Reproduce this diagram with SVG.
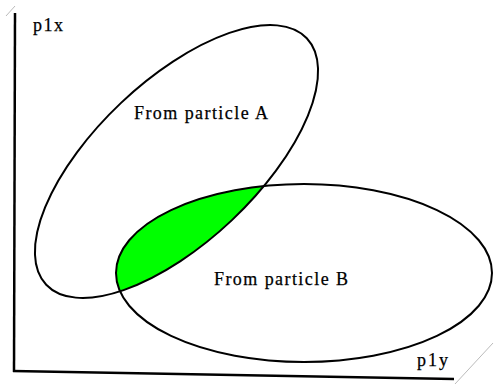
<svg xmlns="http://www.w3.org/2000/svg" width="494" height="385" viewBox="0 0 494 385">
<style>
.ell{fill:none;stroke:#000;stroke-width:2}
.axis{stroke:#000;stroke-width:2.5;fill:none}
.curl{stroke:#bbb;stroke-width:1;fill:none}
.lbl{font-family:"Liberation Serif","DejaVu Serif",serif;font-size:18px;fill:#000;stroke:#000;stroke-width:0.25}
</style>
<defs>
<clipPath id="clipB"><ellipse cx="304" cy="273" rx="188" ry="89"/></clipPath>
</defs>
<rect width="494" height="385" fill="#fff"/>
<g id="axes">
<line class="axis" x1="15" y1="13" x2="14" y2="372"/>
<line class="axis" x1="13" y1="371" x2="454" y2="379"/>
<line class="curl" x1="6" y1="16" x2="15" y2="6"/>
<line class="curl" x1="455" y1="384" x2="493" y2="343"/>
</g>
<g id="overlap" clip-path="url(#clipB)">
<ellipse cx="176.5" cy="161.5" rx="179.3" ry="80.7" transform="rotate(-43.4 176.5 161.5)" fill="#00ff00"/>
</g>
<g id="particleA">
<ellipse class="ell" cx="176.5" cy="161.5" rx="179.3" ry="80.7" transform="rotate(-43.4 176.5 161.5)"/>
<text class="lbl" x="134" y="119" textLength="134" lengthAdjust="spacing">From particle A</text>
</g>
<g id="particleB">
<ellipse class="ell" cx="304" cy="273" rx="188" ry="89"/>
<text class="lbl" x="214" y="285" textLength="134" lengthAdjust="spacing">From particle B</text>
</g>
<g id="labels">
<text class="lbl" x="33" y="31" textLength="30" lengthAdjust="spacing">p1x</text>
<text class="lbl" x="417" y="366" textLength="31" lengthAdjust="spacing">p1y</text>
</g>
</svg>
